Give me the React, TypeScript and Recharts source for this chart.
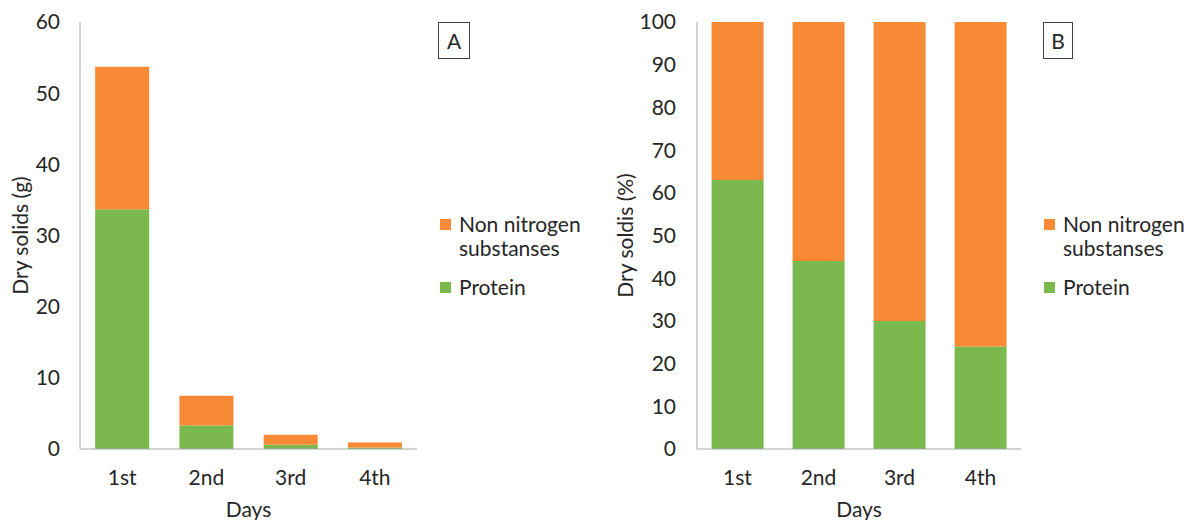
import React from 'react';
import { BarChart, Bar, XAxis, YAxis, Legend } from 'recharts';

const days = ['1st', '2nd', '3rd', '4th'];
const proteinGrams = [33.7, 3.3, 0.6, 0.22];
const nonNitrogenGrams = [20.0, 4.2, 1.4, 0.68];
const proteinPercent = [63, 44, 30, 24];
const nonNitrogenPercent = [37, 56, 70, 76];
const ticksA = [0, 10, 20, 30, 40, 50, 60];
const ticksB = [0, 10, 20, 30, 40, 50, 60, 70, 80, 90, 100];

const dataA = days.map((d, i) => ({ day: d, protein: proteinGrams[i], nonN: nonNitrogenGrams[i] }));
const dataB = days.map((d, i) => ({ day: d, protein: proteinPercent[i], nonN: nonNitrogenPercent[i] }));

const ORANGE = '#F88A36';
const GREEN = '#7AB94D';
const AXIS = '#A6A6A6';
const TEXT = '#262626';
const FONT = 'Lato, "Open Sans", sans-serif';
const FS = 21;

const LegendContent = (props: any) => {
  const items = [...(props.payload || [])].sort((a: any, b: any) =>
    a.dataKey === 'nonN' ? -1 : b.dataKey === 'nonN' ? 1 : 0
  );
  return (
    <div style={{ fontFamily: FONT, fontSize: FS, color: TEXT, lineHeight: '24px' }}>
      {items.map((it: any, i: number) => (
        <div key={i} style={{ display: 'flex', alignItems: 'flex-start', marginBottom: 15 }}>
          <div style={{ width: 11, height: 11, background: it.color, marginTop: 7, marginRight: 8, flex: 'none' }} />
          <div style={{ width: 130 }}>{it.value}</div>
        </div>
      ))}
    </div>
  );
};

type PanelProps = {
  data: any[];
  ticks: number[];
  max: number;
  yLabel: string;
  yAxisWidth: number;
  marginRight: number;
  tickMargin: number;
  labelDx: number;
  legendLeft: number;
  width: number;
};

const Panel = (p: PanelProps) => (
  <BarChart
    width={p.width}
    height={520}
    data={p.data}
    margin={{ top: 22, right: p.marginRight, bottom: 0, left: 0 }}
    barCategoryGap="18%"
  >
    <XAxis
      dataKey="day"
      height={71}
      tickSize={0}
      tickMargin={21}
      axisLine={{ stroke: AXIS }}
      tickLine={false}
      tick={{ fill: TEXT, fontSize: FS, fontFamily: FONT }}
      label={{ value: 'Days', position: 'insideBottom', offset: 3, fill: TEXT, fontSize: FS, fontFamily: FONT }}
    />
    <XAxis xAxisId="top" dataKey="day" orientation="top" height={0} tick={false} tickLine={false} axisLine={{ stroke: AXIS }} />
    <YAxis
      width={p.yAxisWidth}
      domain={[0, p.max]}
      ticks={p.ticks}
      tickSize={0}
      tickMargin={p.tickMargin}
      interval={0}
      axisLine={{ stroke: AXIS }}
      tickLine={false}
      tick={{ fill: TEXT, fontSize: FS, fontFamily: FONT }}
      label={{ value: p.yLabel, angle: -90, position: 'center', dx: p.labelDx, fill: TEXT, fontSize: FS, fontFamily: FONT }}
    />
    <YAxis yAxisId="right" orientation="right" width={0} tick={false} tickLine={false} axisLine={{ stroke: AXIS }} />
    <Bar dataKey="protein" name="Protein" stackId="a" fill={GREEN} isAnimationActive={false} />
    <Bar dataKey="nonN" name="Non nitrogen substanses" stackId="a" fill={ORANGE} isAnimationActive={false} />
    <Legend
      layout="vertical"
      align="right"
      verticalAlign="middle"
      content={LegendContent}
      wrapperStyle={{ left: p.legendLeft, top: 212, width: 150 }}
    />
  </BarChart>
);

const PanelTag = ({ text, left, width }: { text: string; left: number; width: number }) => (
  <div
    style={{
      position: 'absolute',
      left,
      top: 22,
      width,
      height: 37,
      boxSizing: 'border-box',
      border: '1px solid #404040',
      fontFamily: FONT,
      fontSize: FS,
      color: TEXT,
      display: 'flex',
      alignItems: 'center',
      justifyContent: 'center',
      background: '#fff',
    }}
  >
    {text}
  </div>
);

export default function App() {
  return (
    <div style={{ position: 'absolute', left: 0, top: 0, width: 1192, height: 520, background: '#fff', overflow: 'hidden' }}>
      <div style={{ position: 'absolute', left: 0, top: 0 }}>
        <Panel
          data={dataA}
          ticks={ticksA}
          max={60}
          yLabel="Dry solids (g)"
          yAxisWidth={80}
          marginRight={33}
          tickMargin={20}
          labelDx={-19}
          legendLeft={440}
          width={600}
        />
      </div>
      <div style={{ position: 'absolute', left: 600, top: 0 }}>
        <Panel
          data={dataB}
          ticks={ticksB}
          max={100}
          yLabel="Dry soldis (%)"
          yAxisWidth={97}
          marginRight={21}
          tickMargin={21}
          labelDx={-23}
          legendLeft={444}
          width={592}
        />
      </div>
      <PanelTag text="A" left={438} width={32} />
      <PanelTag text="B" left={1043} width={30} />
    </div>
  );
}
